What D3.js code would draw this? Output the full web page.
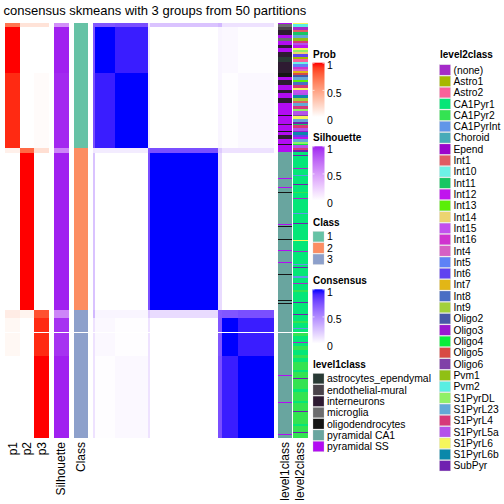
<!DOCTYPE html>
<html><head><meta charset="utf-8">
<script src="https://cdn.jsdelivr.net/npm/d3@7"></script>
<style>body{margin:0;background:#fff} text{font-family:"Liberation Sans",Arial,Helvetica,sans-serif;fill:#000}</style>
</head><body><svg id="c" width="504" height="504"></svg>
<script>
// ---------------- DATA ----------------
const titleText = "consensus skmeans with 3 groups from 50 partitions";
// sub-clusters in the sample order (rows of the consensus matrix)
const subNames = ["a0","a1","a2","b0","b1","c0","c1","c2"];
const subClass = [1,1,1,2,2,3,3,3];
const subSize  = [4,46,75,5,157,8,38,82];
const probP1   = [0.70,1.00,0.95,0.08,0.00,0.10,0.04,0.00];
const probP2   = [0.15,0.00,0.00,0.75,1.00,0.06,0.00,0.00];
const probP3   = [0.15,0.00,0.02,0.17,0.00,0.84,0.95,1.00];
const silhouetteVals = [0.55,1.00,0.98,0.60,1.00,0.60,0.95,1.00];
const consensusMat = [
  [0.70,0.72,0.75,0.10,0.25,0.30,0.12,0.12],
  [0.72,1.00,0.94,0.08,0.00,0.04,0.03,0.01],
  [0.75,0.94,1.00,0.08,0.00,0.04,0.01,0.03],
  [0.10,0.08,0.08,0.70,0.75,0.22,0.12,0.12],
  [0.25,0.00,0.00,0.75,1.00,0.15,0.00,0.00],
  [0.30,0.04,0.04,0.22,0.15,0.70,0.72,0.75],
  [0.12,0.03,0.01,0.12,0.00,0.72,1.00,0.94],
  [0.12,0.01,0.03,0.12,0.00,0.75,0.94,1.00]
];
const classLevels = ["1","2","3"];
const classColors = ["#66c2a5","#fc8d62","#8da0cb"];

const level1Names = ["astrocytes_ependymal","endothelial-mural","interneurons","microglia","oligodendrocytes","pyramidal CA1","pyramidal SS"];
const level1Colors = ["#293a35","#4a434a","#2e1b32","#6c6c6e","#151515","#69a59f","#b20cf2"];
const level1Runs = [
  ["pyramidal SS",1],["microglia",3],["endothelial-mural",3],["interneurons",5],["pyramidal SS",3],["microglia",3],
  ["pyramidal SS",4],["interneurons",3],["pyramidal SS",4],["interneurons",5],["astrocytes_ependymal",5],["interneurons",11],
  ["oligodendrocytes",4],["pyramidal SS",3],["interneurons",5],["pyramidal SS",5],["interneurons",3],["pyramidal SS",5],
  ["interneurons",5],["pyramidal SS",12],["oligodendrocytes",1],["pyramidal SS",8],["interneurons",1],["pyramidal SS",6],
  ["oligodendrocytes",1],["pyramidal SS",3],["interneurons",4],["pyramidal SS",5],["oligodendrocytes",1],["pyramidal SS",7],
  ["pyramidal CA1",26],["pyramidal SS",1],["pyramidal CA1",8],["pyramidal SS",1],["pyramidal CA1",4],["oligodendrocytes",1],
  ["pyramidal CA1",31],["pyramidal SS",1],["pyramidal CA1",1],["oligodendrocytes",1],["pyramidal CA1",12],["oligodendrocytes",1],
  ["pyramidal CA1",10],["pyramidal SS",1],["pyramidal CA1",11],["pyramidal SS",1],["pyramidal CA1",11],["oligodendrocytes",1],
  ["pyramidal CA1",25],["oligodendrocytes",1],["pyramidal CA1",2],["oligodendrocytes",1],["pyramidal CA1",71],["pyramidal SS",1],
  ["pyramidal CA1",26],["pyramidal SS",1],["pyramidal CA1",31],["pyramidal SS",1],["pyramidal CA1",3]
];

const level2Names = ["(none)","Astro1","Astro2","CA1Pyr1","CA1Pyr2","CA1PyrInt","Choroid","Epend","Int1","Int10","Int11","Int12","Int13","Int14","Int15","Int16","Int4","Int5","Int6","Int7","Int8","Int9","Oligo2","Oligo3","Oligo4","Oligo5","Oligo6","Pvm1","Pvm2","S1PyrDL","S1PyrL23","S1PyrL4","S1PyrL5a","S1PyrL6","S1PyrL6b","SubPyr"];
const level2Colors = ["#a52ac9","#a6b800","#f8609a","#05e678","#34e352","#6196e8","#47abb8","#9b05cc","#e05c64","#6ef2e6","#17c663","#c014ee","#5aef08","#ecd470","#c250ee","#d033cf","#d660c4","#5e82f6","#6043f0","#e2b616","#4a6ec4","#a2d03a","#4858a8","#9a18d0","#0aee3a","#d84a44","#8040a8","#90c014","#58eee2","#90f066","#62a8d6","#d63878","#b452ea","#f6f65c","#0a88aa","#7020b0"];
const level2Runs = [
  ["S1PyrL6",1],["Pvm2",3],["(none)",3],["Int1",2],["Int11",3],["S1PyrL23",3],["Pvm1",3],["S1PyrL4",2],["S1PyrL5a",2],
  ["Int12",3],["S1PyrL6",2],["S1PyrDL",2],["Int14",2],["Int6",3],["Astro1",2],["Astro2",3],["Int10",2],["Int5",3],
  ["Int16",2],["Int4",2],["Int7",2],["Oligo5",2],["Oligo2",2],["S1PyrL23",3],["Int13",2],["Int8",3],["S1PyrL4",3],
  ["S1PyrL6",2],["Int15",3],["S1PyrL5a",2],["S1PyrL6b",3],["Int9",3],["Int1",2],["S1PyrL23",3],["S1PyrL4",3],
  ["S1PyrDL",2],["S1PyrL5a",4],["Oligo6",1],["S1PyrL6",3],["S1PyrL23",3],["SubPyr",2],["Int11",1],["S1PyrL4",3],
  ["S1PyrL5a",3],["Oligo3",1],["S1PyrL6b",3],["Int6",2],["Int12",2],["S1PyrL23",3],["S1PyrDL",2],["Oligo4",1],
  ["S1PyrL5a",3],["S1PyrL4",2],["SubPyr",2],
  ["CA1Pyr1",3],["SubPyr",1],["CA1Pyr1",12],["(none)",1],["CA1Pyr1",6],["CA1PyrInt",1],["CA1Pyr1",8],["SubPyr",1],
  ["CA1Pyr1",7],["CA1Pyr2",1],["CA1Pyr1",5],["(none)",1],["CA1Pyr1",14],["CA1PyrInt",1],["CA1Pyr1",9],["SubPyr",1],
  ["CA1Pyr1",16],["S1PyrL6",1],["CA1Pyr1",10],["(none)",1],["CA1Pyr1",12],["CA1PyrInt",1],["CA1Pyr1",2],["SubPyr",1],
  ["CA1Pyr1",8],["CA1PyrInt",2],["CA1Pyr1",5],["(none)",1],["CA1Pyr1",6],["CA1Pyr2",2],["CA1Pyr1",10],["SubPyr",1],["CA1Pyr1",7],
  ["CA1Pyr1",4],["SubPyr",1],["CA1Pyr1",6],["CA1Pyr2",2],["CA1Pyr1",5],["CA1PyrInt",1],["CA1Pyr1",4],["CA1Pyr2",3],
  ["CA1Pyr1",6],["(none)",1],["CA1Pyr1",3],["CA1Pyr2",4],["CA1Pyr1",5],["CA1Pyr2",3],["CA1Pyr1",4],
  ["CA1Pyr2",8],["CA1Pyr1",2],["CA1Pyr2",6],["SubPyr",1],["CA1Pyr2",10],["CA1Pyr1",3],["CA1Pyr2",9],["CA1Pyr1",2],
  ["CA1Pyr2",8],["SubPyr",1],["CA1Pyr2",12],["CA1Pyr1",2],["CA1Pyr2",6],["SubPyr",1],["CA1Pyr2",5]
];
const gapRow = 309; // thin white raster gap in the reference
const colLabels = ["p1","p2","p3","Silhouette","Class","level1class","level2class"];

// ---------------- DRAW ----------------
const svg = d3.select("#c");
const N = d3.sum(subSize);
const yTop = 23, yBottom = 438;
const y = d3.scaleLinear().domain([0,N]).range([yTop,yBottom]);
const xh = d3.scaleLinear().domain([0,N]).range([93,274]);
const starts = Array.from(d3.cumsum([0,...subSize]));

const lab = c => d3.interpolateLab("#ffffff", c);
const probCol = lab("#ff0000"), silCol = lab("#a020f0"), consCol = lab("#0000ff");

svg.append("text").attr("x",3.5).attr("y",15).style("font-size","13px").text(titleText);

const g = svg.append("g").attr("shape-rendering","crispEdges");
const cols = {p1:[5,20],p2:[20,34.3],p3:[34.3,48.5],sil:[54,68.5],cls:[74,88],l1:[278,292],l2:[293,307.5]};

function colRect(c, r0, r1, fill){
  g.append("rect").attr("x",cols[c][0]).attr("width",cols[c][1]-cols[c][0])
   .attr("y",y(r0)).attr("height",y(r1)-y(r0)).attr("fill",fill);
}
subSize.forEach((s,i)=>{
  const r0=starts[i], r1=starts[i+1];
  colRect("p1",r0,r1,probCol(probP1[i]));
  colRect("p2",r0,r1,probCol(probP2[i]));
  colRect("p3",r0,r1,probCol(probP3[i]));
  colRect("sil",r0,r1,silCol(silhouetteVals[i]));
  colRect("cls",r0,r1,classColors[subClass[i]-1]);
});
// consensus heatmap
subSize.forEach((si,i)=>{
  subSize.forEach((sj,j)=>{
    g.append("rect").attr("x",xh(starts[j])).attr("width",xh(starts[j+1])-xh(starts[j]))
     .attr("y",y(starts[i])).attr("height",y(starts[i+1])-y(starts[i]))
     .attr("fill",consCol(consensusMat[i][j]));
  });
});
// level annotations
const l1c = d3.scaleOrdinal(level1Names, level1Colors);
const l2c = d3.scaleOrdinal(level2Names, level2Colors);
let r=0;
level1Runs.forEach(([k,n])=>{ colRect("l1",r,r+n,l1c(k)); r+=n; });
r=0;
level2Runs.forEach(([k,n])=>{ colRect("l2",r,r+n,l2c(k)); r+=n; });
// raster gap line
g.append("rect").attr("x",0).attr("width",310).attr("y",y(gapRow)).attr("height",1).attr("fill","#fff");

// column labels
const labX = [12.5,27.2,41.4,61.2,81,285,300.2];
colLabels.forEach((t,i)=>{
  svg.append("text").attr("transform",`translate(${labX[i]},442) rotate(-90)`)
    .attr("text-anchor","end").attr("dy","0.35em").style("font-size","12px").text(t);
});

// legends
function contLegend(title, ty, barTop, col){
  svg.append("text").attr("x",313).attr("y",ty+3.5).style("font-size","10px").style("font-weight","bold").text(title);
  const id="grad"+title;
  const grad = svg.append("defs").append("linearGradient").attr("id",id).attr("x1",0).attr("y1",1).attr("x2",0).attr("y2",0);
  d3.range(0,1.0001,0.1).forEach(t=>grad.append("stop").attr("offset",t).attr("stop-color",col(t)));
  const h=54.3;
  svg.append("rect").attr("x",312.5).attr("y",barTop).attr("width",12).attr("height",h).attr("fill",`url(#${id})`);
  const sc = d3.scaleLinear().domain([0,1]).range([barTop+h,barTop]);
  [1,0.5].forEach(v=>{
    [[312.5,314.5],[322.5,324.5]].forEach(([a,b])=>svg.append("line").attr("x1",a).attr("x2",b)
      .attr("y1",sc(v)+0.5).attr("y2",sc(v)+0.5).attr("stroke","#fff").attr("stroke-width",1).attr("opacity",0.7));
  });
  [1,0.5,0].forEach(v=>svg.append("text").attr("x",327).attr("y",sc(v)+3).attr("dy","0.35em").style("font-size","10.5px").text(v));
}
contLegend("Prob",54,62.7,probCol);
contLegend("Silhouette",137.7,146.3,silCol);
svg.append("text").attr("x",313).attr("y",225.8).style("font-size","10px").style("font-weight","bold").text("Class");
classLevels.forEach((c,i)=>{
  svg.append("rect").attr("x",313).attr("y",231.5+i*11.3).attr("width",11).attr("height",10.3).attr("fill",classColors[i]).attr("stroke","#ccc").attr("stroke-width",0.3);
  svg.append("text").attr("x",327).attr("y",236.7+i*11.3).attr("dy","0.35em").style("font-size","10.5px").text(c);
});
contLegend("Consensus",280,289.3,consCol);
svg.append("text").attr("x",313).attr("y",367.5).style("font-size","10px").style("font-weight","bold").text("level1class");
level1Names.forEach((c,i)=>{
  svg.append("rect").attr("x",313).attr("y",373.5+i*11.3).attr("width",11).attr("height",10.3).attr("fill",level1Colors[i]).attr("stroke","#ccc").attr("stroke-width",0.3);
  svg.append("text").attr("x",327).attr("y",378.7+i*11.3).attr("dy","0.35em").style("font-size","10.4px").text(c);
});
svg.append("text").attr("x",440).attr("y",57.5).style("font-size","10px").style("font-weight","bold").text("level2class");
level2Names.forEach((c,i)=>{
  svg.append("rect").attr("x",439.5).attr("y",64.8+i*11.31).attr("width",11).attr("height",10.3).attr("fill",level2Colors[i]).attr("stroke","#ccc").attr("stroke-width",0.3);
  svg.append("text").attr("x",453.5).attr("y",70+i*11.31).attr("dy","0.35em").style("font-size","10.3px").text(c);
});
</script></body></html>
